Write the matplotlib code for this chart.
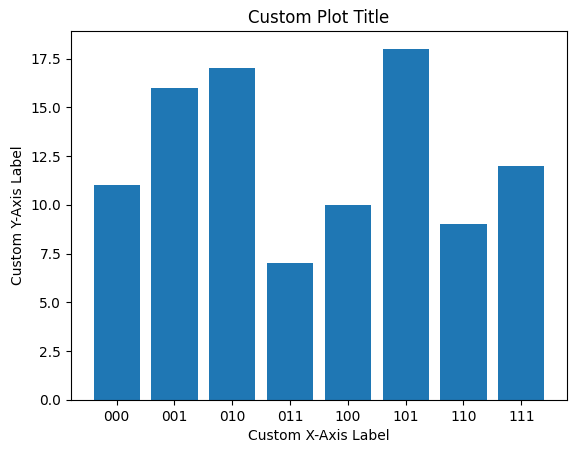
import matplotlib
matplotlib.use('Agg')
import matplotlib.pyplot as plt

# Bit-string categories and their counts
categories = ['000', '001', '010', '011', '100', '101', '110', '111']
counts = [11, 16, 17, 7, 10, 18, 9, 12]

fig = plt.figure(figsize=(5.76, 4.54), dpi=100)
ax = fig.add_axes([0.1233, 0.119, 0.861, 0.812])

ax.bar(categories, counts, color='#1f77b4')
ax.set_title('Custom Plot Title')
ax.set_xlabel('Custom X-Axis Label')
ax.set_ylabel('Custom Y-Axis Label')

fig.savefig('out.png', dpi=100)
